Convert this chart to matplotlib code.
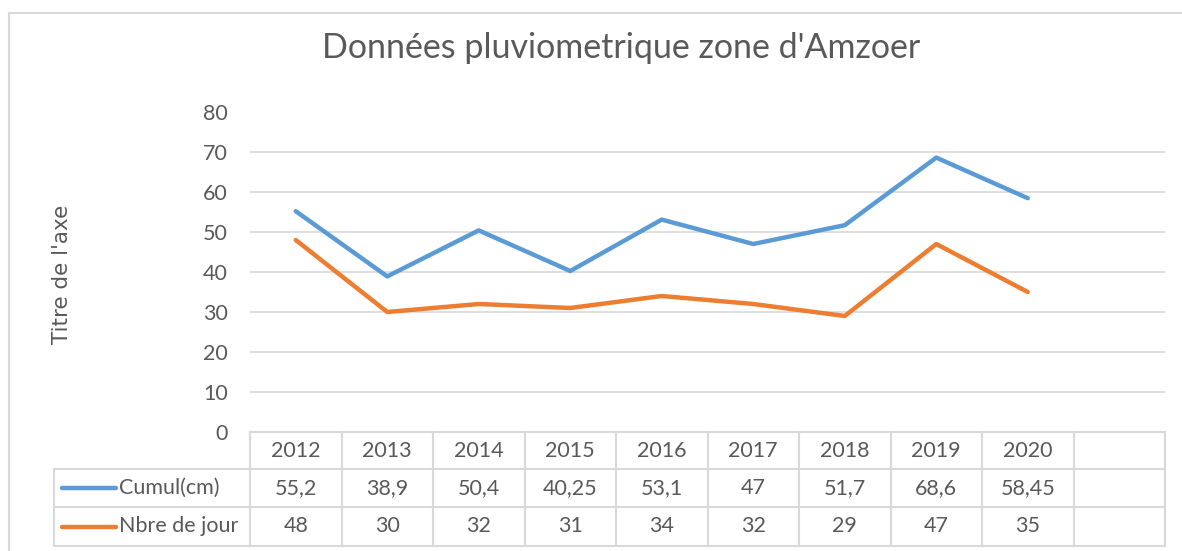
import matplotlib
matplotlib.use("Agg")
import matplotlib.pyplot as plt
from matplotlib.lines import Line2D

YEARS = ["2012", "2013", "2014", "2015", "2016", "2017", "2018", "2019", "2020"]
CUMUL = [55.2, 38.9, 50.4, 40.25, 53.1, 47, 51.7, 68.6, 58.45]
CUMUL_TXT = ["55,2", "38,9", "50,4", "40,25", "53,1", "47", "51,7", "68,6", "58,45"]
JOURS = [48, 30, 32, 31, 34, 32, 29, 47, 35]
JOURS_TXT = ["48", "30", "32", "31", "34", "32", "29", "47", "35"]
SERIES = [("Cumul(cm)", CUMUL, CUMUL_TXT, "#5B9BD5"),
          ("Nbre de jour", JOURS, JOURS_TXT, "#ED7D31")]
N_SLOTS = 10  # excel leaves one empty category at the end

TEXT = "#595959"
GRID = "#D9D9D9"
FS = 15.5
plt.rcParams["font.family"] = ["Lato", "DejaVu Sans"]

W, H = 1182, 551
fig = plt.figure(figsize=(W / 100, H / 100), dpi=100)


def fx(px):
    return px / W


def fy(py):
    return 1 - py / H


# chart frame (only left and top edges visible in the crop)
fig.add_artist(Line2D([fx(9), fx(9)], [fy(13), 0], color=GRID, lw=1.5))
fig.add_artist(Line2D([fx(9), 1], [fy(13), fy(13)], color=GRID, lw=1.5))

ax = fig.add_axes([fx(250), fy(432), fx(1165) - fx(250), fy(112) - fy(432)])
ax.set_xlim(-0.5, N_SLOTS - 0.5)
ax.set_ylim(0, 80)
for s in ax.spines.values():
    s.set_visible(False)
ax.set_xticks([])
ax.set_yticks(range(0, 90, 10))
ax.tick_params(axis="y", length=0, pad=16, labelsize=FS, labelcolor=TEXT)
for v in range(10, 80, 10):
    ax.axhline(v, color=GRID, lw=1.2, zorder=0)

for name, vals, _, col in SERIES:
    ax.plot(range(len(vals)), vals, color=col, lw=3.2, solid_capstyle="round", zorder=3)

fig.text(fx(62), fy(274), "Titre de l'axe", rotation=90, ha="center", va="center",
         fontsize=15.5, color=TEXT, family="DejaVu Sans")
fig.text(fx(621), fy(48), "Données pluviometrique zone d'Amzoer", ha="center", va="center",
         fontsize=24.5, color=TEXT)

# data table under the plot
tr = ax.get_xaxis_transform()
row_y = [432, 469, 507, 546]
ax_h = 432 - 112


def ay(py):
    return (432 - py) / ax_h


x_left = -0.5
x_right = N_SLOTS - 0.5
x_label = -0.5 - (250 - 54) / ((1165 - 250) / N_SLOTS)
lk = dict(color=GRID, lw=1.5, clip_on=False, transform=tr)
ax.plot([x_left, x_right], [ay(432)] * 2, **lk)
for py in row_y[1:]:
    ax.plot([x_label, x_right], [ay(py)] * 2, **lk)
ax.plot([x_label, x_label], [ay(469), ay(546)], **lk)
for i in range(N_SLOTS + 1):
    ax.plot([i - 0.5, i - 0.5], [ay(432), ay(546)], **lk)

for i, yr in enumerate(YEARS):
    ax.text(i, ay(451), yr, ha="center", va="center", fontsize=FS, color=TEXT,
            transform=tr, clip_on=False)
for r, (name, vals, txt, col) in enumerate(SERIES):
    yc = (row_y[r + 1] + row_y[r + 2]) / 2
    for i, t in enumerate(txt):
        ax.text(i, ay(yc), t, ha="center", va="center", fontsize=FS, color=TEXT,
                transform=tr, clip_on=False)
    fig.add_artist(Line2D([fx(62), fx(116)], [fy(yc)] * 2,
                          color=col, lw=3.2, solid_capstyle="round"))
    fig.text(fx(119), fy(yc), name, ha="left", va="center", fontsize=FS, color=TEXT)

fig.savefig("out.png", dpi=100)
